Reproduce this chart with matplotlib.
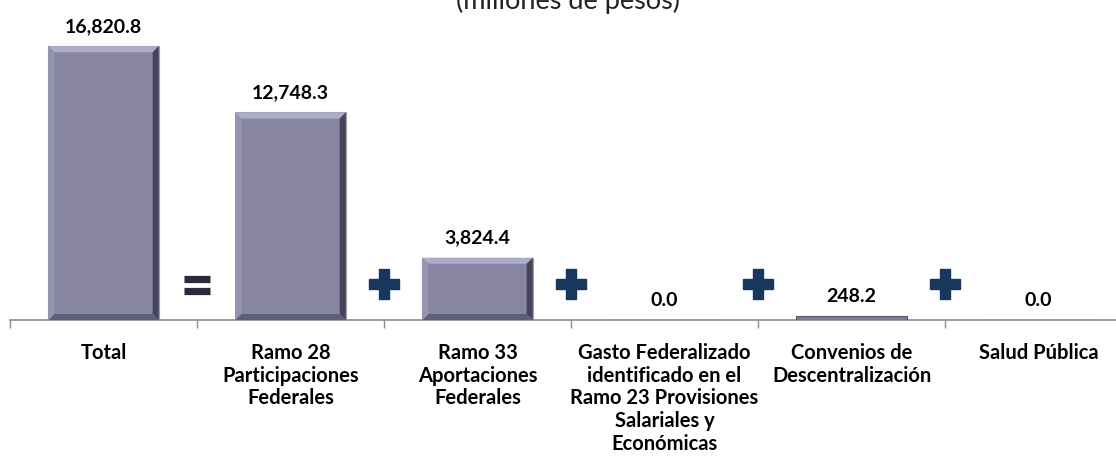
import matplotlib.pyplot as plt
from matplotlib.patches import Polygon, Rectangle

categorias = ["Total",
              "Ramo 28\nParticipaciones\nFederales",
              "Ramo 33\nAportaciones\nFederales",
              "Gasto Federalizado\nidentificado en el\nRamo 23 Provisiones\nSalariales y\nEconómicas",
              "Convenios de\nDescentralización",
              "Salud Pública"]
valores = [16820.8, 12748.3, 3824.4, 0.0, 248.2, 0.0]
etiquetas = ["16,820.8", "12,748.3", "3,824.4", "0.0", "248.2", "0.0"]
signos = ["=", "+", "+", "+", "+"]

W, H, DPI = 1116, 459, 100
fig = plt.figure(figsize=(W / DPI, H / DPI), dpi=DPI)
# axes run a bit past the right edge, as in the original crop
ax = fig.add_axes([10 / W, 139 / H, 1122 / W, 293 / H])
ymax = 18000
ax.set_xlim(-0.5, len(categorias) - 0.5)
ax.set_ylim(0, ymax)
for s in ["top", "right", "left"]:
    ax.spines[s].set_visible(False)
ax.spines["bottom"].set_color("#8c8c8c")
ax.spines["bottom"].set_linewidth(1.2)
ax.set_yticks([])
ax.set_xticks([i - 0.5 for i in range(len(categorias) + 1)])
ax.set_xticklabels([])
ax.tick_params(axis="x", length=6, color="#8c8c8c", width=1)

font = "Lato"
px_x = 1122 / len(categorias)       # pixels per x unit
px_y = 293 / ymax                    # pixels per y unit
ancho = 0.59
bev = 6


def barra(x, h):
    x0, x1 = x - ancho / 2, x + ancho / 2
    ax.add_patch(Rectangle((x0, 0), ancho, h, facecolor="#8785a2",
                           edgecolor="#9b9aaf", lw=0.8, zorder=2))
    if h * px_y < 2 * bev + 2:
        ax.add_patch(Rectangle((x0, 0), ancho, h, facecolor="#7d7b98",
                               edgecolor="#5a5970", lw=0.8, zorder=3))
        return
    dx, dy = bev / px_x, bev / px_y
    caras = [
        ([(x0, h), (x1, h), (x1 - dx, h - dy), (x0 + dx, h - dy)], "#aeadc8"),
        ([(x1, h), (x1, 0), (x1 - dx, dy), (x1 - dx, h - dy)], "#45445a"),
        ([(x0, 0), (x1, 0), (x1 - dx, dy), (x0 + dx, dy)], "#5f5e77"),
        ([(x0, 0), (x0, h), (x0 + dx, h - dy), (x0 + dx, dy)], "#9594b0"),
    ]
    for pts, c in caras:
        ax.add_patch(Polygon(pts, closed=True, facecolor=c, edgecolor="none",
                             zorder=3))


for i, (v, lab) in enumerate(zip(valores, etiquetas)):
    barra(i, v)
    ax.annotate(lab, (i, v), xytext=(0, 8), textcoords="offset points",
                ha="center", va="bottom", fontsize=14, fontweight="bold",
                family=font, color="black")
    ax.text(i, -1400, categorias[i], ha="center", va="top", fontsize=14.5,
            fontweight="bold", family=font, linespacing=1.17, clip_on=False)

ys = 2150
for i, s in enumerate(signos):
    x = i + 0.5
    if s == "=":
        d = 13 / px_x
        for off in (340, -340):
            ax.plot([x - d, x + d], [ys + off, ys + off], color="#2b2a3a",
                    lw=5.2, solid_capstyle="butt", zorder=4)
    else:
        ax.plot(x, ys + 50, marker="P", markersize=22, color="#17375e",
                markeredgecolor="#17375e", zorder=4)

fig.text(568 / W, 1 - 9 / H, "(millones de pesos)", ha="center",
         va="baseline", fontsize=19.5, family=font, color="#222222")

fig.savefig("out.png", dpi=DPI)
